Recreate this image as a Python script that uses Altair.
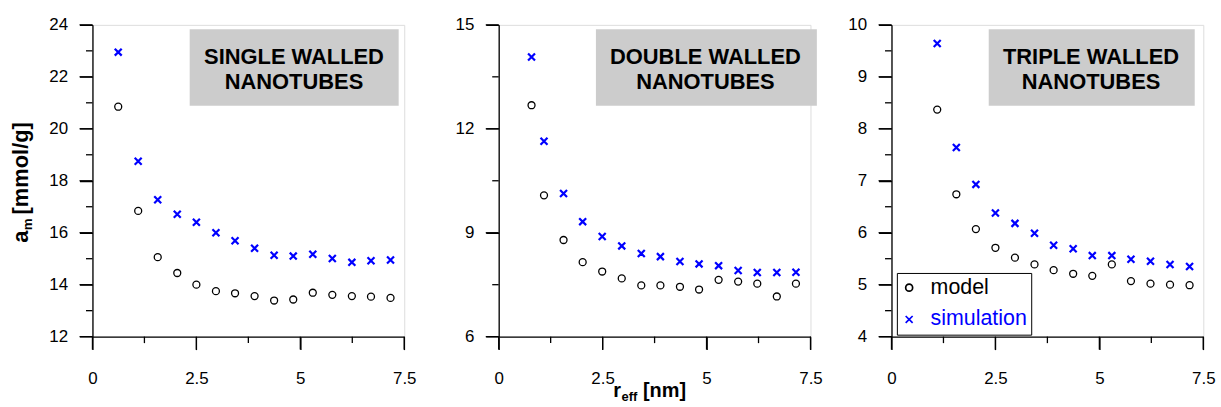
import altair as alt
import pandas as pd

FONT = "Liberation Sans"
series_names = ["model", "simulation"]
series_colors = ["#000000", "#0000ff"]
cross_path = "M-1,-1L1,1M-1,1L1,-1"

# ---------------- data ----------------
sw_r = [0.62, 1.10, 1.57, 2.04, 2.50, 2.97, 3.43, 3.90, 4.37, 4.83, 5.30, 5.77, 6.24, 6.70, 7.17]
sw_model = [20.85, 16.84, 15.06, 14.45, 14.00, 13.75, 13.67, 13.56, 13.39, 13.43, 13.69, 13.61, 13.56, 13.54, 13.49]
sw_sim = [22.95, 18.75, 17.27, 16.71, 16.40, 16.00, 15.69, 15.40, 15.13, 15.10, 15.17, 15.01, 14.86, 14.92, 14.95]

dw_r = [0.79, 1.09, 1.56, 2.02, 2.49, 2.96, 3.43, 3.89, 4.36, 4.82, 5.29, 5.76, 6.22, 6.69, 7.15]
dw_model = [12.68, 10.08, 8.79, 8.15, 7.88, 7.68, 7.48, 7.48, 7.44, 7.36, 7.64, 7.59, 7.53, 7.16, 7.53]
dw_sim = [14.07, 11.64, 10.13, 9.32, 8.89, 8.62, 8.40, 8.31, 8.17, 8.10, 8.05, 7.91, 7.85, 7.85, 7.86]

tw_r = [1.10, 1.56, 2.03, 2.50, 2.97, 3.44, 3.90, 4.37, 4.83, 5.30, 5.76, 6.23, 6.70, 7.17]
tw_model = [8.37, 6.74, 6.07, 5.71, 5.52, 5.39, 5.28, 5.21, 5.17, 5.39, 5.07, 5.02, 5.00, 4.99]
tw_sim = [9.64, 7.64, 6.93, 6.38, 6.18, 5.99, 5.76, 5.69, 5.56, 5.56, 5.49, 5.45, 5.39, 5.35]

# ---------------- ticks ----------------
x_domain = [0, 7.5]
x_major = [0, 2.5, 5, 7.5]
x_minor = [1.25, 3.75, 6.25]

sw_domain = [12, 24]
sw_major = [12, 14, 16, 18, 20, 22, 24]
sw_minor = [13, 15, 17, 19, 21, 23]

dw_domain = [6, 15]
dw_major = [6, 9, 12, 15]
dw_minor = [7.5, 10.5, 13.5]

tw_domain = [4, 10]
tw_major = [4, 5, 6, 7, 8, 9, 10]
tw_minor = [4.5, 5.5, 6.5, 7.5, 8.5, 9.5]

sw_label = ["SINGLE WALLED", "NANOTUBES"]
dw_label = ["DOUBLE WALLED", "NANOTUBES"]
tw_label = ["TRIPLE WALLED", "NANOTUBES"]

W = 313.3
H = 313.3
MAJOR = 13
MINOR = 6.5


def make_axis(major, pad):
    return alt.Axis(
        values=major,
        title=None,
        grid=False,
        domainColor="black",
        domainWidth=1.3,
        tickColor="black",
        tickWidth=1.3,
        tickSize=MAJOR,
        labelExpr="format(datum.value, '~g')",
        labelFont=FONT,
        labelFontSize=17,
        labelColor="black",
        labelPadding=pad,
        labelFlush=False,
        labelOverlap=False,
    )


def panel(r, model, sim, ydom, ymaj, ymin, lines, box_x1, box_x2, text_x, show_legend, extra):
    df = pd.DataFrame({
        "r": r + r,
        "a": model + sim,
        "series": ["model"] * len(r) + ["simulation"] * len(r),
    })
    xscale = alt.Scale(domain=x_domain, nice=False, zero=False)
    yscale = alt.Scale(domain=ydom, nice=False, zero=False)
    xaxis = make_axis(x_major, 21)
    yaxis = make_axis(ymaj, 12)
    if show_legend:
        leg = alt.Legend(
            title=None,
            orient="none",
            legendX=5.4,
            legendY=249.3,
            strokeColor="black",
            fillColor="white",
            padding=4,
            symbolOffset=-2.4,
            labelOffset=10.8,
            rowPadding=9,
            labelFont=FONT,
            labelFontSize=21.5,
            labelColor={"expr": "datum.label == 'simulation' ? '#0000ff' : '#000000'"},
            symbolSize=49,
            symbolStrokeWidth=1.7,
        )
    else:
        leg = None
    pts = alt.Chart(df).mark_point(filled=False, size=49, opacity=1).encode(
        x=alt.X("r:Q", scale=xscale, axis=xaxis),
        y=alt.Y("a:Q", scale=yscale, axis=yaxis),
        color=alt.Color("series:N", scale=alt.Scale(domain=series_names, range=series_colors), legend=leg),
        shape=alt.Shape("series:N", scale=alt.Scale(domain=series_names, range=["circle", cross_path]), legend=leg),
        strokeWidth=alt.condition(alt.datum.series == "simulation", alt.value(2.2), alt.value(1.3)),
    )
    tick_layers = []
    for vals, length in ((ymin, MINOR), (ymaj, MAJOR)):
        tick_layers.append(
            alt.Chart(pd.DataFrame({"a": vals})).mark_rule(color="black", strokeWidth=1.3).encode(
                y=alt.Y("a:Q", scale=yscale, axis=yaxis), x=alt.value(-length), x2=alt.value(0)
            )
        )
    for vals, length in ((x_minor, MINOR), (x_major, MAJOR)):
        tick_layers.append(
            alt.Chart(pd.DataFrame({"r": vals})).mark_rule(color="black", strokeWidth=1.3).encode(
                x=alt.X("r:Q", scale=xscale, axis=xaxis), y=alt.value(H), y2=alt.value(H + length)
            )
        )
    one = alt.Data(values=[{}])
    box = alt.Chart(one).mark_rect(color="#cccccc").encode(
        x=alt.value(box_x1), x2=alt.value(box_x2), y=alt.value(4.3), y2=alt.value(81.3)
    )
    txt = alt.Chart(one).mark_text(
        font=FONT, fontSize=22, fontWeight="bold", align="center", baseline="alphabetic",
        lineHeight=25.6, color="black"
    ).encode(x=alt.value(text_x), y=alt.value(39), text=alt.value(lines))
    layers = [box, txt, pts] + tick_layers + extra
    return alt.layer(*layers).properties(width=W, height=H)


one = alt.Data(values=[{}])


def piece(text, x, y, size, angle=0):
    kw = dict(font=FONT, fontSize=size, fontWeight="bold", align="left", baseline="alphabetic", color="black")
    if angle:
        kw["angle"] = angle
    return alt.Chart(one).mark_text(**kw).encode(x=alt.value(x), y=alt.value(y), text=alt.value(text))


ytitle = [
    piece("a", -65, 219, 22, 270),
    piece("m", -61, 206.5, 13.5, 270),
    piece("[mmol/g]", -65, 190.5, 22, 270),
]
xtitle = [
    piece("r", 115, 374.3, 20),
    piece("eff", 123.4, 378.3, 13),
    piece("[nm]", 145, 374.3, 20),
]

p1 = panel(sw_r, sw_model, sw_sim, sw_domain, sw_major, sw_minor, sw_label, 97.7, 307.7, 202.5, False, ytitle)
p2 = panel(dw_r, dw_model, dw_sim, dw_domain, dw_major, dw_minor, dw_label, 97.7, 319.7, 207.7, False, xtitle)
p3 = panel(tw_r, tw_model, tw_sim, tw_domain, tw_major, tw_minor, tw_label, 97.7, 304.7, 200.5, True, [])

inner = alt.hconcat(p1, p2, spacing=37.2).resolve_scale(color="independent", shape="independent")
chart = alt.hconcat(inner, p3, spacing=23.9).resolve_scale(
    color="independent", shape="independent"
).properties(
    padding={"left": 8.9, "top": 14, "right": 5, "bottom": 0}
).configure_view(stroke=None).configure(background="white")

chart.save("out.html", embed_options={"renderer": "svg", "actions": False})
